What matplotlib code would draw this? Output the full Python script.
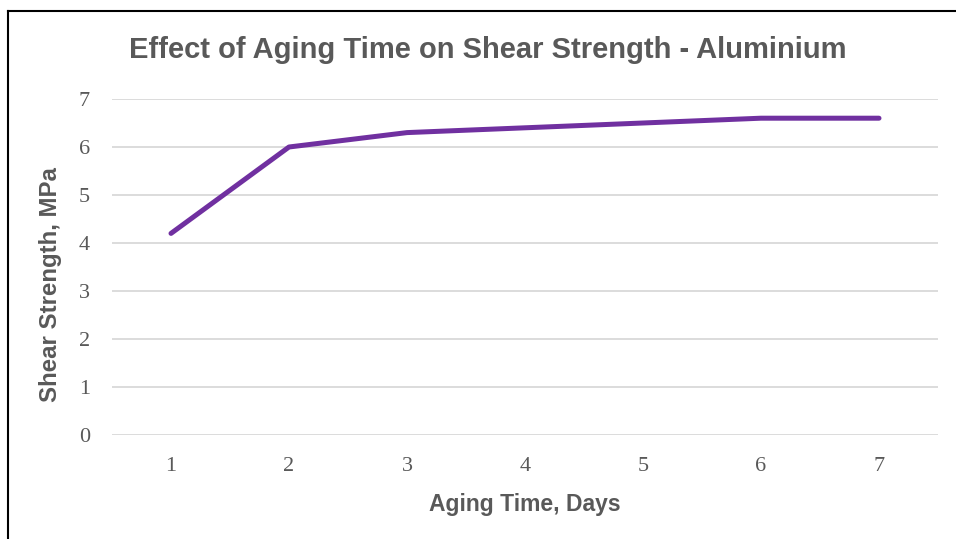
import matplotlib
matplotlib.use("Agg")
import matplotlib.pyplot as plt
from matplotlib.lines import Line2D

days = [1, 2, 3, 4, 5, 6, 7]
strength = [4.2, 6.0, 6.3, 6.4, 6.5, 6.6, 6.6]
y_ticks = [0, 1, 2, 3, 4, 5, 6, 7]

W, H = 956, 539
fig = plt.figure(figsize=(W / 100, H / 100), dpi=100)
ax = fig.add_axes([112 / W, 1 - 435 / H, (938 - 112) / W, (435 - 99) / H])

ax.plot(days, strength, color="#7030A0", lw=3.6, solid_capstyle="round", solid_joinstyle="round", zorder=3)
ax.set_xlim(0.5, 7.5)
ax.set_ylim(0, 7)
ax.set_yticks(y_ticks)
ax.set_xticks(days)
ax.grid(axis="y", color="#D9D9D9", lw=1.3)
ax.set_axisbelow(True)
for s in ax.spines.values():
    s.set_visible(False)
ax.tick_params(length=0, labelsize=16, labelcolor="#595959")
for lab in ax.get_xticklabels() + ax.get_yticklabels():
    lab.set_family("Liberation Serif")
ax.tick_params(axis="y", pad=16)
ax.tick_params(axis="x", pad=16)

ax.set_xlabel("Aging Time, Days", fontsize=16.5, fontweight="bold", color="#595959",
              family="Liberation Sans", labelpad=12)
ax.set_ylabel("Shear Strength, MPa", fontsize=17.3, fontweight="bold", color="#595959",
              family="Liberation Sans")
ax.yaxis.set_label_coords(-0.060, 0.449)
fig.text(488 / W, 1 - 50 / H, "Effect of Aging Time on Shear Strength - Aluminium",
         ha="center", va="center", fontsize=21, fontweight="bold", color="#595959",
         family="Liberation Sans")

fig.add_artist(Line2D([8 / W, 8 / W], [0, 1 - 11 / H], transform=fig.transFigure, color="black", lw=1.5))
fig.add_artist(Line2D([8 / W, 1], [1 - 11 / H, 1 - 11 / H], transform=fig.transFigure, color="black", lw=1.5))

fig.savefig("out.png", dpi=100)
